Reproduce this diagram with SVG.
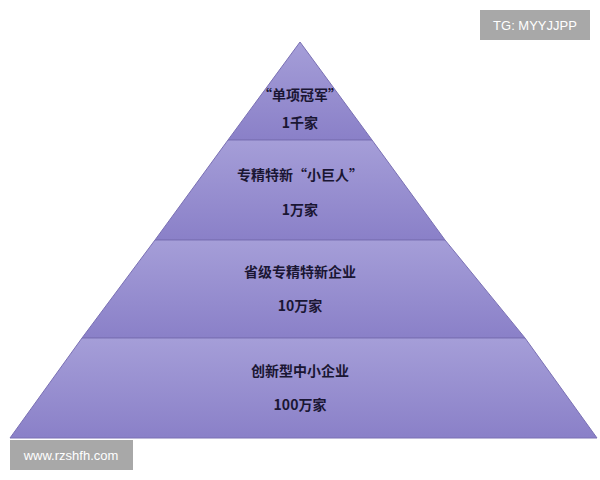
<svg xmlns="http://www.w3.org/2000/svg" width="600" height="480" viewBox="0 0 600 480">
<defs>
<linearGradient id="g" x1="0" y1="0" x2="0" y2="1">
<stop offset="0" stop-color="#a59ed8"/>
<stop offset="1" stop-color="#8a80c8"/>
</linearGradient>
<style>
.l{fill:url(#g);stroke:#7a70b4;stroke-width:1}
.t{font-family:"Noto Sans CJK SC","Liberation Sans",sans-serif;font-weight:bold;font-size:14px;fill:#1a1633;text-anchor:middle}
.w{font-family:"Liberation Sans",sans-serif;font-size:13px;fill:#fff}
</style>
</defs>
<rect width="600" height="480" fill="#fff"/>
<g id="layer1"><polygon class="l" points="300,42 372,140 228,140"/><text class="t" x="300" y="100">“单项冠军”</text><text class="t" x="300" y="128">1千家</text></g>
<g id="layer2"><polygon class="l" points="228,140 372,140 445,240 155,240"/><text class="t" x="300" y="180">专精特新“小巨人”</text><text class="t" x="300" y="215">1万家</text></g>
<g id="layer3"><polygon class="l" points="155,240 445,240 525,338 82,338"/><text class="t" x="300" y="277">省级专精特新企业</text><text class="t" x="300" y="311">10万家</text></g>
<g id="layer4"><polygon class="l" points="82,338 525,338 597,438 10,438"/><text class="t" x="300" y="376">创新型中小企业</text><text class="t" x="300" y="410">100万家</text></g>
<g id="connectors"/>
<g id="wm1"><rect x="480" y="10" width="110" height="30" fill="#a8a8a8"/><text class="w" x="535" y="30" text-anchor="middle">TG: MYYJJPP</text></g>
<g id="wm2"><rect x="10" y="440" width="123" height="30" fill="#a8a8a8"/><text class="w" x="71" y="460" text-anchor="middle">www.rzshfh.com</text></g>
</svg>
